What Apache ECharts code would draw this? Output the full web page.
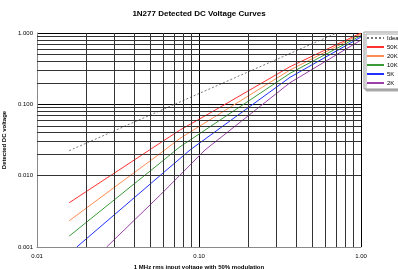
<!DOCTYPE html>
<html>
<head>
<meta charset="utf-8">
<script src="https://cdn.jsdelivr.net/npm/echarts@6/dist/echarts.min.js"></script>
<style>
  html, body { margin: 0; padding: 0; background: #fff; }
  #main { width: 398px; height: 269px; }
</style>
</head>
<body>
<div id="main"></div>
<script>
// values (input Vrms, detected DC volts)
var ideal = [[0.0158, 0.0224], [0.707, 1.0]];
var load50k = [[0.0158, 0.00417], [0.0574, 0.0286], [0.0763, 0.0436], [0.117, 0.0755], [0.3645, 0.337], [1.0, 1.0]];
var load20k = [[0.0158, 0.00233], [0.0574, 0.0204], [0.0763, 0.0333], [0.3645, 0.303], [1.0, 0.968]];
var load10k = [[0.0158, 0.00142], [0.0574, 0.0150], [0.0763, 0.0254], [0.3645, 0.272], [1.0, 0.922]];
var load5k = [[0.0176, 0.001], [0.0574, 0.0100], [0.088, 0.0229], [0.3645, 0.239], [1.0, 0.879]];
var load2k = [[0.0269, 0.001], [0.0574, 0.0053], [0.1089, 0.0229], [0.3645, 0.201], [1.0, 0.798]];
var seriesNames = ['Ideal', '50K', '20K', '10K', '5K', '2K'];
var decadesX = [0.01, 0.1];
var decadesY = [0.001, 0.01, 0.1];

var chartDom = document.getElementById('main');
var myChart = echarts.init(chartDom);
var option;

// minor grid lines at 2..9 of each decade
var gridLines = [];
decadesX.forEach(function (d) {
    for (var k = 2; k <= 9; k++) gridLines.push({ xAxis: d * k });
});
decadesY.forEach(function (d) {
    for (var k = 2; k <= 9; k++) gridLines.push({ yAxis: d * k });
});

function curve(name, data, color) {
    return {
        name: name,
        type: 'line',
        data: data,
        smooth: false,
        symbol: 'none',
        lineStyle: { color: color, width: 1 },
        itemStyle: { color: color }
    };
}

option = {
    animation: false,
    title: {
        text: '1N277 Detected DC Voltage Curves',
        left: 'center',
        top: 5,
        textStyle: { fontFamily: 'Liberation Sans', fontSize: 8, fontWeight: 'bold', color: '#000' }
    },
    grid: { left: 37, top: 33, right: 37, bottom: 22, outerBoundsMode: 'none', containLabel: false },
    legend: {
        data: seriesNames,
        orient: 'vertical',
        left: 364,
        top: 32,
        itemWidth: 17,
        itemHeight: 6,
        itemGap: 3,
        padding: [3, 4, 3, 2],
        backgroundColor: '#fff',
        borderColor: '#999',
        borderWidth: 1,
        shadowColor: '#aaa',
        shadowOffsetX: 2,
        shadowOffsetY: 2,
        itemStyle: { opacity: 0 },
        textStyle: { fontFamily: 'Liberation Sans', fontSize: 6, color: '#000', padding: [0, 0, 0, -2] }
    },
    xAxis: {
        type: 'log',
        min: 0.01,
        max: 1,
        logBase: 10,
        name: '1 MHz rms input voltage with 50% modulation',
        nameLocation: 'middle',
        nameGap: 15,
        nameTextStyle: { fontFamily: 'Liberation Sans', fontSize: 6, fontWeight: 'bold', color: '#000' },
        axisLine: { lineStyle: { color: '#888', width: 1 } },
        axisTick: { show: false },
        axisLabel: {
            fontFamily: 'Liberation Sans', fontSize: 6, color: '#000', margin: 6,
            formatter: function (v) { return v.toFixed(2); }
        },
        splitLine: { show: true, lineStyle: { color: '#000', width: 1 } }
    },
    yAxis: {
        type: 'log',
        min: 0.001,
        max: 1,
        logBase: 10,
        name: 'Detected DC voltage',
        nameLocation: 'middle',
        nameGap: 25,
        nameTextStyle: { fontFamily: 'Liberation Sans', fontSize: 6, fontWeight: 'bold', color: '#000' },
        axisLine: { show: true, lineStyle: { color: '#888', width: 1 } },
        axisTick: { show: false },
        axisLabel: {
            fontFamily: 'Liberation Sans', fontSize: 6, color: '#000', margin: 4,
            formatter: function (v) { return v.toFixed(3); }
        },
        splitLine: { show: true, lineStyle: { color: '#000', width: 1 } }
    },
    series: [
        {
            name: 'grid',
            type: 'line',
            data: [],
            silent: true,
            markLine: {
                silent: true,
                symbol: 'none',
                label: { show: false },
                lineStyle: { color: '#333', width: 1, type: 'solid' },
                emphasis: { disabled: true },
                data: gridLines
            }
        },
        {
            name: 'Ideal',
            type: 'line',
            data: ideal,
            symbol: 'none',
            lineStyle: { color: '#777', width: 1, type: [2, 2] },
            itemStyle: { color: '#777' }
        },
        curve('50K', load50k, '#ff3030'),
        curve('20K', load20k, '#ff8c50'),
        curve('10K', load10k, '#3a9a3a'),
        curve('5K', load5k, '#2030ff'),
        curve('2K', load2k, '#9a40a8')
    ]
};

option && myChart.setOption(option);
</script>
</body>
</html>
